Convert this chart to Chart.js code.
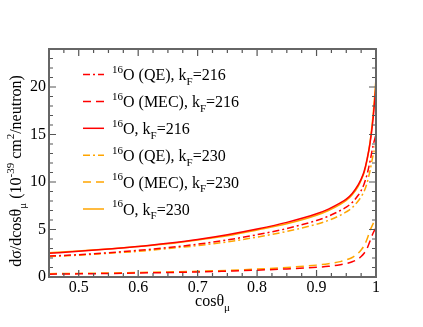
<!DOCTYPE html>
<html lang="en">
<head>
  <meta charset="UTF-8">
  <title>dsigma/dcos theta_mu, 16O</title>
  <script src="https://cdn.jsdelivr.net/npm/chart.js"></script>
  <style>
    html, body { margin: 0; padding: 0; background: #fff; }
    #wrap { width: 423px; height: 327px; }
  </style>
</head>
<body>
<div id="wrap"><canvas id="xsec"></canvas></div>
<script>
// cos(theta_mu) sample points
const cosTheta = [0.45, 0.5, 0.55, 0.6, 0.65, 0.7, 0.75, 0.8, 0.85, 0.9, 0.92, 0.94, 0.95, 0.96, 0.97, 0.975, 0.98, 0.985, 0.99, 0.995, 1.0];

// kF = 216
const qe216  = [2.2, 2.35, 2.55, 2.8, 3.1, 3.45, 3.9, 4.45, 5.1, 5.95, 6.4, 7.0, 7.35, 7.85, 8.6, 9.1, 9.8, 10.8, 12.2, 13.8, 15.0];
const mec216 = [0.3, 0.33, 0.37, 0.42, 0.47, 0.53, 0.62, 0.72, 0.85, 1.02, 1.12, 1.3, 1.42, 1.6, 1.9, 2.15, 2.5, 3.0, 3.8, 4.6, 5.2];
const tot216 = [2.5, 2.7, 2.95, 3.2, 3.55, 3.95, 4.45, 5.05, 5.75, 6.65, 7.15, 7.8, 8.2, 8.8, 9.7, 10.3, 11.1, 12.4, 14.1, 16.6, 20.2];

// kF = 230
const qe230  = [2.15, 2.3, 2.5, 2.7, 3.0, 3.3, 3.7, 4.2, 4.8, 5.55, 5.95, 6.5, 6.85, 7.3, 8.0, 8.45, 9.0, 9.9, 11.2, 12.8, 14.0];
const mec230 = [0.35, 0.38, 0.42, 0.47, 0.53, 0.6, 0.7, 0.83, 1.0, 1.25, 1.4, 1.62, 1.8, 2.05, 2.5, 2.85, 3.3, 4.0, 4.9, 5.6, 6.2];
const tot230 = [2.55, 2.75, 2.95, 3.2, 3.5, 3.9, 4.35, 4.95, 5.6, 6.5, 7.0, 7.65, 8.05, 8.65, 9.55, 10.2, 11.0, 12.3, 14.2, 17.0, 20.9];

const xTicks = [0.5, 0.6, 0.7, 0.8, 0.9, 1];
const yTicks = [0, 5, 10, 15, 20];

const RED = '#ff0000';
const ORANGE = '#ffa500';
const DASHDOT = [7, 3, 2, 3];
const DASHED = [8, 5];
const SERIF = "'Liberation Serif', 'Times New Roman', serif";

const series = [
  { name: 'QE',  kf: '216', values: qe216,  color: RED,    dash: DASHDOT },
  { name: 'MEC', kf: '216', values: mec216, color: RED,    dash: DASHED },
  { name: '',    kf: '216', values: tot216, color: RED,    dash: [] },
  { name: 'QE',  kf: '230', values: qe230,  color: ORANGE, dash: DASHDOT },
  { name: 'MEC', kf: '230', values: mec230, color: ORANGE, dash: DASHED },
  { name: '',    kf: '230', values: tot230, color: ORANGE, dash: [] }
];

// draws text made of plain / superscript / subscript pieces
function richWidth(ctx, segs, size) {
  let w = 0;
  segs.forEach(s => {
    ctx.font = (s.sup || s.sub ? Math.round(size * 0.68) : size) + 'px ' + SERIF;
    w += ctx.measureText(s.t).width;
  });
  return w;
}
function drawRich(ctx, segs, x, y, size) {
  segs.forEach(s => {
    const small = s.sup || s.sub;
    ctx.font = (small ? Math.round(size * 0.68) : size) + 'px ' + SERIF;
    let dy = 0;
    if (s.sup) dy = -size * 0.45;
    if (s.sub) dy = size * 0.3;
    ctx.fillText(s.t, x, y + dy);
    x += ctx.measureText(s.t).width;
  });
}

const decorations = {
  id: 'decorations',
  afterDraw(chart) {
    const ctx = chart.ctx;
    const a = chart.chartArea;
    const xs = chart.scales.x, ys = chart.scales.y;
    ctx.save();

    // tick marks, inward on all four sides
    ctx.strokeStyle = '#555';
    ctx.lineWidth = 1.2;
    ctx.setLineDash([]);
    ctx.beginPath();
    for (let i = 0; i <= 22; i++) {
      const v = 0.45 + i * 0.025;
      const px = xs.getPixelForValue(v);
      const major = Math.abs(v * 10 - Math.round(v * 10)) < 1e-6;
      const len = major ? 7 : 4;
      ctx.moveTo(px, a.bottom); ctx.lineTo(px, a.bottom - len);
      ctx.moveTo(px, a.top); ctx.lineTo(px, a.top + len);
    }
    for (let v = 0; v <= 24; v++) {
      const py = ys.getPixelForValue(v);
      const len = v % 5 === 0 ? 7 : 4;
      ctx.moveTo(a.left, py); ctx.lineTo(a.left + len, py);
      ctx.moveTo(a.right, py); ctx.lineTo(a.right - len, py);
    }
    ctx.stroke();

    // frame
    ctx.strokeStyle = '#666';
    ctx.lineWidth = 2;
    ctx.strokeRect(a.left, a.top, a.right - a.left, a.bottom - a.top);

    // legend
    ctx.fillStyle = '#000';
    ctx.textAlign = 'left';
    ctx.textBaseline = 'alphabetic';
    series.forEach((s, i) => {
      const y = 74.5 + i * 26.9;
      ctx.strokeStyle = s.color;
      ctx.lineWidth = 1.5;
      ctx.setLineDash(s.dash);
      ctx.beginPath();
      ctx.moveTo(83, y); ctx.lineTo(104, y);
      ctx.stroke();
      ctx.setLineDash([]);
      const segs = [
        { t: '16', sup: true },
        { t: s.name ? 'O (' + s.name + '), k' : 'O, k' },
        { t: 'F', sub: true },
        { t: '=' + s.kf }
      ];
      drawRich(ctx, segs, 112, y + 5.5, 16);
    });

    // x axis title
    const xt = [{ t: 'cos\u03b8' }, { t: '\u03bc', sub: true }];
    const xw = richWidth(ctx, xt, 16);
    drawRich(ctx, xt, (a.left + a.right) / 2 - xw / 2, 306, 16);

    // y axis title
    const yt = [
      { t: 'd\u03c3/dcos\u03b8' }, { t: '\u03bc', sub: true },
      { t: ' (10' }, { t: '-39', sup: true },
      { t: ' cm' }, { t: '2', sup: true },
      { t: '/neutron)' }
    ];
    const yw = richWidth(ctx, yt, 16);
    ctx.translate(21, 171);
    ctx.rotate(-Math.PI / 2);
    drawRich(ctx, yt, -yw / 2, 0, 16);

    ctx.restore();
  }
};

const chart = new Chart(document.getElementById('xsec'), {
  type: 'line',
  data: {
    datasets: series.map(s => ({
      label: s.name + ' ' + s.kf,
      data: cosTheta.map((c, i) => ({ x: c, y: s.values[i] })),
      borderColor: s.color,
      borderDash: s.dash,
      borderWidth: 1.5,
      pointRadius: 0,
      fill: false,
      cubicInterpolationMode: 'monotone'
    }))
  },
  options: {
    responsive: true,
    maintainAspectRatio: false,
    animation: false,
    layout: { padding: { top: 49, right: 47, left: 0, bottom: 0 } },
    plugins: {
      legend: { display: false },
      tooltip: { enabled: false }
    },
    scales: {
      x: {
        type: 'linear',
        min: 0.45,
        max: 1.0,
        grid: { display: false, drawTicks: false },
        border: { display: false },
        afterBuildTicks: (scale) => { scale.ticks = xTicks.map(v => ({ value: v })); },
        afterFit: (scale) => { scale.height = 50; },
        ticks: {
          padding: 1,
          maxRotation: 0,
          color: '#000',
          font: { family: SERIF, size: 16 },
          callback: (v) => String(v)
        }
      },
      y: {
        min: 0,
        max: 24,
        grid: { display: false, drawTicks: false },
        border: { display: false },
        afterBuildTicks: (scale) => { scale.ticks = yTicks.map(v => ({ value: v })); },
        afterFit: (scale) => { scale.width = 49; },
        ticks: {
          padding: 3,
          color: '#000',
          font: { family: SERIF, size: 16 },
          callback: (v) => String(v)
        }
      }
    }
  },
  plugins: [decorations]
});
</script>
</body>
</html>
